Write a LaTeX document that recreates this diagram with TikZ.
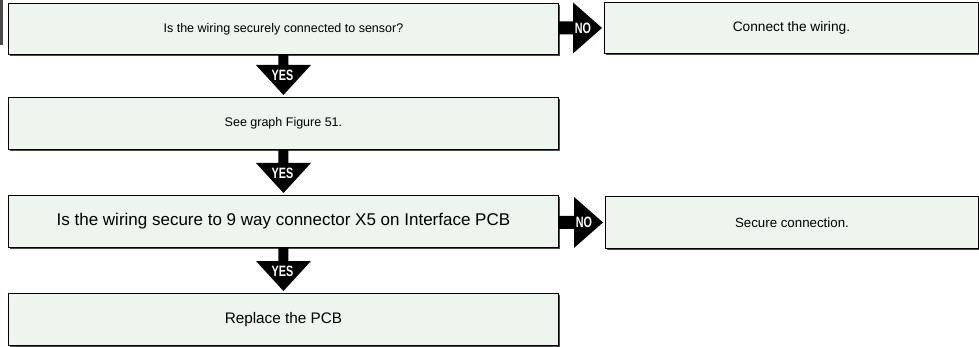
\documentclass[tikz,border=0pt]{standalone}
\usepackage{fontspec}
\setmainfont{Liberation Sans}
\newfontfamily\condfont[FakeStretch=0.72]{Liberation Sans}
\usetikzlibrary{calc}
\definecolor{boxfill}{HTML}{EEF4EE}
\definecolor{boxshadow}{HTML}{4A4A4A}
\tikzset{
  qbox/.style={draw=black, line width=0.9pt, fill=boxfill, anchor=north west,
    inner sep=0pt, font=\fontsize{12.5}{14}\selectfont},
  fatarrow/.style={fill=black, draw=none},
  arrowlabel/.style={text=white, font=\condfont\bfseries\fontsize{15}{15}\selectfont, inner sep=0pt},
}
\begin{document}
\begin{tikzpicture}[x=1pt,y=-1pt]
\useasboundingbox (0,0) rectangle (979,347);
% clipped artifact at the left edge
\fill[boxshadow] (0,0) rectangle (2.5,45);
% shadows
\foreach \a/\b/\c/\d in {8/3/558/54, 8/97/558/149, 8/195/558/247, 8/293/558/345, 604/2/978/53, 605/196/978/248}{
  \fill[boxshadow] (\a+1.8,\b+1.8) rectangle (\c+1.8,\d+1.8);
}
% boxes
\node[qbox, minimum width=550pt, minimum height=51pt] (b1) at (8,3) {Is the wiring securely connected to sensor?};
\node[qbox, minimum width=550pt, minimum height=52pt] (b2) at (8,97) {See graph Figure 51.};
\node[qbox, minimum width=550pt, minimum height=52pt, font=\fontsize{17}{19}\selectfont] (b3) at (8,195) {Is the wiring secure to 9 way connector X5 on Interface PCB};
\node[qbox, minimum width=550pt, minimum height=52pt, font=\fontsize{15.3}{17}\selectfont] (b4) at (8,293) {Replace the PCB};
\node[qbox, minimum width=374pt, minimum height=51pt, font=\fontsize{13.7}{15}\selectfont] (r1) at (604,2) {Connect the wiring.};
\node[qbox, minimum width=373pt, minimum height=52pt, font=\fontsize{13.3}{15}\selectfont] (r2) at (605,196) {Secure connection.};
% YES arrows
\foreach \s/\t/\n in {b1/b2/y1, b2/b3/y2, b3/b4/y3}{
  \coordinate (\n tip) at ($(\t.north)+(0,-2)$);
  \fill[fatarrow] ($(\s.south)+(-5,0)$) -- ($(\s.south)+(5,0)$)
    -- ($(\n tip)+(5,-30)$) -- ($(\n tip)+(27.5,-30)$) -- (\n tip)
    -- ($(\n tip)+(-27.5,-30)$) -- ($(\n tip)+(-5,-30)$) -- cycle;
  \node[arrowlabel] (\n lbl) at ($(\n tip)+(-1,-20)$) {YES};
}
% NO arrows
\foreach \s/\t/\n in {b1/r1/n1, b3/r2/n2}{
  \coordinate (\n tip) at ($(\t.west)+(-2,0)$);
  \coordinate (\n st) at (\s.east |- \n tip);
  \fill[fatarrow] ($(\n st)+(0,-6.5)$) -- ($(\n tip)+(-29,-6.5)$)
    -- ($(\n tip)+(-29,-25.5)$) -- (\n tip) -- ($(\n tip)+(-29,25.5)$)
    -- ($(\n tip)+(-29,6.5)$) -- ($(\n st)+(0,6.5)$) -- cycle;
  \node[arrowlabel] (\n lbl) at ($(\n tip)+(-19,0)$) {NO};
}
\end{tikzpicture}
\end{document}
